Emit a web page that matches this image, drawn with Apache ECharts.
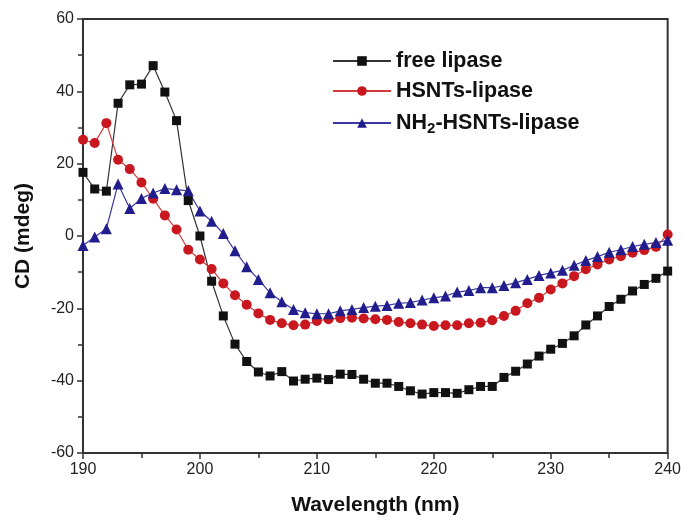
<!DOCTYPE html>
<html>
<head>
<meta charset="utf-8">
<script src="https://cdn.jsdelivr.net/npm/echarts@6/dist/echarts.min.js"></script>
<style>html,body{margin:0;padding:0;background:#fff}#c{width:684px;height:521px}</style>
</head>
<body>
<div id="c"></div>
<script>
const wavelengths = [190,191,192,193,194,195,196,197,198,199,200,201,202,203,204,205,206,207,208,209,210,211,212,213,214,215,216,217,218,219,220,221,222,223,224,225,226,227,228,229,230,231,232,233,234,235,236,237,238,239,240];
const freeLipase = [17.6,13.0,12.4,36.7,41.8,42.0,47.1,39.8,31.9,9.8,0.0,-12.5,-22.1,-29.9,-34.7,-37.6,-38.7,-37.5,-40.1,-39.6,-39.3,-39.7,-38.2,-38.3,-39.6,-40.7,-40.7,-41.6,-42.8,-43.7,-43.3,-43.3,-43.5,-42.5,-41.6,-41.6,-39.1,-37.4,-35.4,-33.2,-31.3,-29.7,-27.6,-24.6,-22.1,-19.5,-17.5,-15.2,-13.4,-11.7,-9.7];
const hsntsLipase = [26.6,25.7,31.2,21.1,18.5,14.8,10.3,5.7,1.8,-3.8,-6.5,-9.1,-13.1,-16.4,-19.0,-21.4,-23.2,-24.1,-24.7,-24.5,-23.5,-23.0,-22.7,-22.6,-22.8,-23.0,-23.2,-23.8,-24.1,-24.5,-24.9,-24.7,-24.7,-24.1,-24.0,-23.3,-22.1,-20.7,-18.6,-17.1,-14.8,-13.1,-11.1,-9.2,-7.9,-6.5,-5.6,-4.6,-3.9,-3.0,0.4];
const nh2HsntsLipase = [-2.6,-0.3,2.0,14.4,7.6,10.4,11.9,13.1,12.8,12.5,6.9,4.1,0.7,-4.1,-8.5,-12.0,-15.7,-18.2,-20.3,-21.2,-21.5,-21.5,-20.7,-20.3,-19.8,-19.4,-19.2,-18.6,-18.4,-17.7,-17.1,-16.6,-15.5,-15.1,-14.3,-14.3,-13.7,-12.9,-12.0,-10.9,-10.2,-9.5,-8.1,-6.8,-5.7,-4.5,-3.8,-2.9,-2.3,-1.8,-1.2];
const seriesNames = ['free lipase','HSNTs-lipase','NH2-HSNTs-lipase'];
const xTicks = [190,200,210,220,230,240];
const yTicks = [-60,-40,-20,0,20,40,60];

const pair = (arr) => wavelengths.map((w,i) => [w, arr[i]]);
const font = 'Liberation Sans, Arial, sans-serif';
const chart = echarts.init(document.getElementById('c'), null, {renderer:'canvas'});
chart.setOption({
  animation:false,
  backgroundColor:'#fff',
  grid:{left:83,right:15,top:19,bottom:67,show:true,borderColor:'#333',borderWidth:2,containLabel:false},
  legend:{
    orient:'vertical', left:327, top:45, itemWidth:58, itemHeight:12, itemGap:8,
    data:seriesNames,
    formatter:function(n){ return n==='NH2-HSNTs-lipase' ? '{b|NH}{s|2}{b|-HSNTs-lipase}' : '{b|'+n+'}'; },
    textStyle:{
      rich:{
        b:{fontFamily:font,fontWeight:'bold',fontSize:21.5,color:'#111',lineHeight:22},
        s:{fontFamily:font,fontWeight:'bold',fontSize:15,color:'#111',padding:[11,0,0,0],lineHeight:22}
      }
    }
  },
  xAxis:{
    type:'value', min:190, max:240, interval:10,
    name:'Wavelength (nm)', nameLocation:'middle', nameGap:42,
    nameTextStyle:{fontFamily:font,fontWeight:'bold',fontSize:21,color:'#111'},
    axisLine:{show:true,onZero:false,lineStyle:{color:'#333',width:2}},
    axisTick:{show:true,inside:false,length:6,lineStyle:{color:'#333',width:1.5}},
    minorTick:{show:true,splitNumber:2,length:5,lineStyle:{color:'#333',width:1.5}},
    axisLabel:{fontFamily:font,fontSize:16,color:'#222',margin:9,
      formatter:function(v){ return xTicks.indexOf(v)>=0 ? String(v) : ''; }},
    splitLine:{show:false}
  },
  yAxis:{
    type:'value', min:-60, max:60, interval:20,
    name:'CD (mdeg)', nameLocation:'middle', nameGap:49,
    nameTextStyle:{fontFamily:font,fontWeight:'bold',fontSize:21,color:'#111'},
    axisLine:{show:true,onZero:false,lineStyle:{color:'#333',width:2}},
    axisTick:{show:true,inside:false,length:6,lineStyle:{color:'#333',width:1.5}},
    minorTick:{show:true,splitNumber:2,length:5,lineStyle:{color:'#333',width:1.5}},
    axisLabel:{fontFamily:font,fontSize:16,color:'#222',margin:9,
      formatter:function(v){ return yTicks.indexOf(v)>=0 ? String(v) : ''; }},
    splitLine:{show:false}
  },
  series:[
    {name:seriesNames[0],type:'line',data:pair(freeLipase),symbol:'rect',symbolSize:9,
     lineStyle:{color:'#333',width:1.2},itemStyle:{color:'#111'}},
    {name:seriesNames[1],type:'line',data:pair(hsntsLipase),symbol:'circle',symbolSize:10,
     lineStyle:{color:'#d23a3a',width:1.2},itemStyle:{color:'#c8171e'}},
    {name:seriesNames[2],type:'line',data:pair(nh2HsntsLipase),symbol:'triangle',symbolSize:11,
     lineStyle:{color:'#3b38a0',width:1.2},itemStyle:{color:'#221d8c'}}
  ]
});
</script>
</body>
</html>
